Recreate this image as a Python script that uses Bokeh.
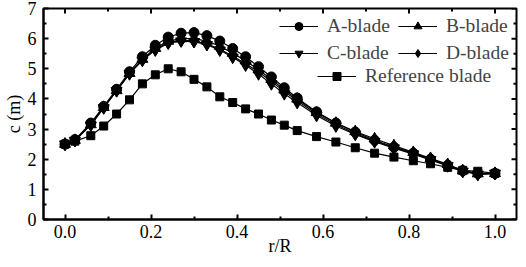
import math
from bokeh.plotting import figure
from bokeh.models import (Legend, LegendItem, FixedTicker,
                          Range1d, NumeralTickFormatter)
from bokeh.embed import file_html
from bokeh.resources import INLINE

# ---- data ----
r = [0.0, 0.023, 0.06, 0.09, 0.12, 0.15, 0.18, 0.21, 0.24, 0.27, 0.30, 0.33,
     0.36, 0.39, 0.42, 0.45, 0.48, 0.51, 0.54, 0.585, 0.63, 0.675, 0.72,
     0.765, 0.81, 0.85, 0.89, 0.925, 0.96, 1.0]
a_blade = [2.5, 2.65, 3.2, 3.75, 4.32, 4.9, 5.4, 5.78, 6.05, 6.18, 6.2, 6.1,
           5.92, 5.67, 5.4, 5.07, 4.73, 4.37, 4.03, 3.57, 3.2, 2.9, 2.63,
           2.4, 2.2, 2.0, 1.8, 1.62, 1.53, 1.53]
b_blade = [2.5, 2.63, 3.15, 3.72, 4.28, 4.85, 5.32, 5.68, 5.92, 6.0, 6.0, 5.92,
           5.75, 5.52, 5.27, 4.97, 4.65, 4.3, 4.0, 3.55, 3.2, 2.92, 2.68,
           2.45, 2.23, 2.03, 1.83, 1.62, 1.52, 1.53]
c_blade = [2.5, 2.62, 3.13, 3.7, 4.27, 4.83, 5.28, 5.62, 5.85, 5.92, 5.9, 5.8,
           5.62, 5.38, 5.12, 4.83, 4.5, 4.17, 3.88, 3.45, 3.1, 2.82, 2.58,
           2.37, 2.17, 1.98, 1.78, 1.6, 1.5, 1.53]
d_blade = [2.5, 2.62, 3.15, 3.72, 4.28, 4.85, 5.3, 5.65, 5.87, 5.95, 5.92, 5.83,
           5.65, 5.42, 5.17, 4.9, 4.58, 4.25, 3.95, 3.5, 3.15, 2.85, 2.6,
           2.4, 2.2, 2.0, 1.8, 1.6, 1.5, 1.53]
ref_blade = [2.5, 2.6, 2.78, 3.1, 3.5, 3.97, 4.5, 4.8, 5.0, 4.9, 4.65, 4.4,
             4.07, 3.88, 3.67, 3.5, 3.3, 3.13, 2.95, 2.75, 2.57, 2.38, 2.2,
             2.07, 1.95, 1.85, 1.73, 1.63, 1.6, 1.53]

x_ticks = [0.0, 0.2, 0.4, 0.6, 0.8, 1.0]
x_minor = [0.1, 0.3, 0.5, 0.7, 0.9]
y_ticks = [0, 1, 2, 3, 4, 5, 6, 7]
y_minor = [0.5, 1.5, 2.5, 3.5, 4.5, 5.5, 6.5]
x_lim = (-0.05, 1.05)
y_lim = (0, 7)

FONT = "serif"

p = figure(width=518, height=259, x_range=Range1d(*x_lim),
           y_range=Range1d(*y_lim), output_backend="svg", toolbar_location=None,
           min_border_left=41, min_border_right=2, min_border_top=8,
           min_border_bottom=40)
p.xgrid.visible = False
p.ygrid.visible = False
p.outline_line_color = "black"
p.outline_line_width = 2


def style_axis(ax, ticks, minor):
    ax.ticker = FixedTicker(ticks=ticks, minor_ticks=minor)
    ax.axis_line_width = 2
    ax.major_tick_line_width = 2
    ax.minor_tick_line_width = 2
    ax.major_tick_in = 5
    ax.major_tick_out = 0
    ax.minor_tick_in = 3
    ax.minor_tick_out = 0
    ax.major_label_text_font = FONT
    ax.major_label_text_color = "black"
    ax.major_label_text_font_size = "18px"
    ax.axis_label_text_font = FONT
    ax.axis_label_text_font_style = "normal"
    ax.axis_label_text_font_size = "18px"
    ax.axis_label_text_color = "black"


style_axis(p.xaxis[0], x_ticks, x_minor)
p.xaxis[0].formatter = NumeralTickFormatter(format="0.0")
p.xaxis[0].major_label_standoff = 5
p.xaxis[0].axis_label = "r/R"
p.xaxis[0].axis_label_standoff = -5
style_axis(p.yaxis[0], y_ticks, y_minor)
p.yaxis[0].major_label_standoff = 7
p.yaxis[0].axis_label = "c (m)"
p.yaxis[0].axis_label_standoff = 1

# mirrored inward ticks on the top and right frame edges (clipped to frame)
p.scatter(x_ticks, [y_lim[1]] * len(x_ticks), marker="dash", angle=math.pi / 2,
          size=10, line_color="black", line_width=2)
p.scatter(x_minor, [y_lim[1]] * len(x_minor), marker="dash", angle=math.pi / 2,
          size=6, line_color="black", line_width=2)
p.scatter([x_lim[1]] * len(y_ticks), y_ticks, marker="dash",
          size=10, line_color="black", line_width=2)
p.scatter([x_lim[1]] * len(y_minor), y_minor, marker="dash",
          size=6, line_color="black", line_width=2)

series = [
    ("A-blade", a_blade, "circle", 10),
    ("B-blade", b_blade, "triangle", 11),
    ("C-blade", c_blade, "inverted_triangle", 11),
    ("D-blade", d_blade, "diamond", 13),
    ("Reference blade", ref_blade, "square", 8),
]
items = []
for name, ys, marker, size in series:
    ln = p.line(r, ys, line_color="black", line_width=1.2)
    sc = p.scatter(r, ys, marker=marker, size=size, fill_color="black",
                   line_color="black")
    items.append(LegendItem(label=name, renderers=[ln, sc]))


def make_legend(its, loc, ncols, label_width):
    lg = Legend(items=its, location=loc, ncols=ncols)
    lg.background_fill_alpha = 0
    lg.border_line_color = None
    lg.padding = 0
    lg.margin = 0
    lg.spacing = 5
    lg.glyph_width = 39
    lg.glyph_height = 20
    lg.label_height = 20
    lg.label_width = label_width
    lg.label_standoff = 9
    lg.label_text_font = FONT
    lg.label_text_font_size = "19.5px"
    return lg


# Bokeh fills legend grids column by column: order gives rows A|B and C|D
p.add_layout(make_legend([items[0], items[2], items[1], items[3]],
                         (236, 155), 2, 66))
p.add_layout(make_legend([items[4]], (274, 132), 1, 20))

open("out.html", "w").write(file_html(p, INLINE))
